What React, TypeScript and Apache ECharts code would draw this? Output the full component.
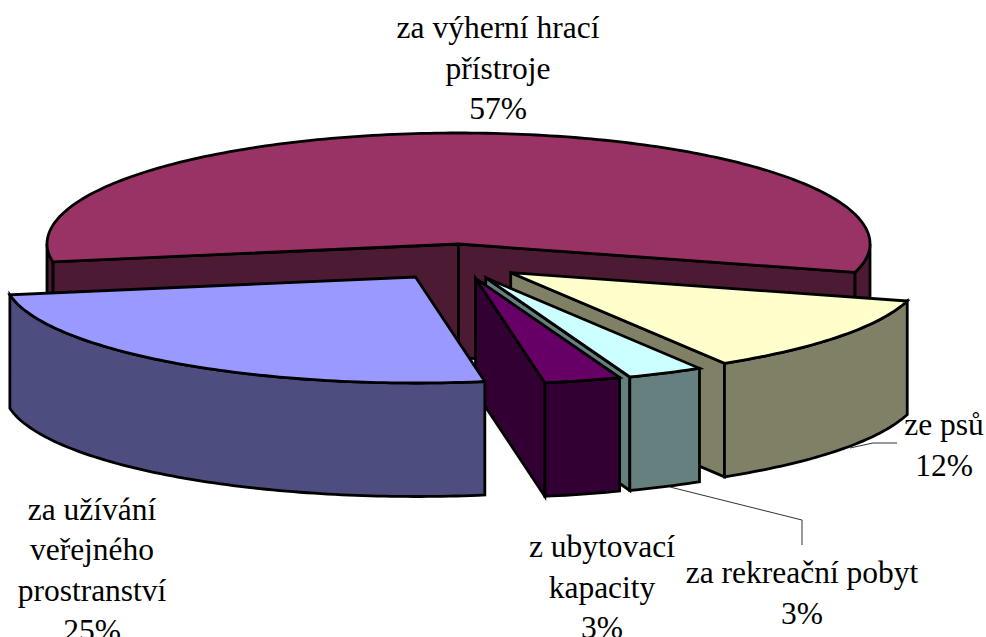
import React, { useEffect, useRef } from "react";
import * as echarts from "echarts";

// Data
const categories = [
  "za výherní hrací\npřístroje",
  "ze psů",
  "za rekreační pobyt",
  "z ubytovací\nkapacity",
  "za užívání\nveřejného\nprostranství",
];
const shares = [57, 12, 3, 3, 25];

// Style and layout
const topColors = ["#993366", "#ffffcc", "#ccffff", "#660066", "#9999ff"];
const wallColors = ["#4d1a33", "#808066", "#668080", "#330033", "#4d4d80"];
const centersX = [458.5, 510.7, 485.7, 475.5, 415.5];
const centersY = [244, 272.7, 277.7, 278.3, 277];
const labelX = [498, 944, 802, 602, 92];
const labelY = [68, 445, 593, 587, 570];

const RX = 411.5;
const RY_BACK = 111;
const RY_FRONT = 106;
const DEPTH = 113.5;
const FIRST_ANGLE = 170.3;
const total = shares.reduce((a, b) => a + b, 0);
const deg = Math.PI / 180;

function project(i: number, angle: number): [number, number] {
  const s = Math.sin(angle * deg);
  return [
    centersX[i] + RX * Math.cos(angle * deg),
    centersY[i] + s * (s > 0 ? RY_FRONT : RY_BACK),
  ];
}

function arcPoints(i: number, a: number, b: number): [number, number][] {
  const pts: [number, number][] = [];
  const n = Math.max(2, Math.ceil((b - a) / 1));
  for (let k = 0; k <= n; k++) pts.push(project(i, a + ((b - a) * k) / n));
  return pts;
}

const down = (p: [number, number]): [number, number] => [p[0], p[1] + DEPTH];

function renderSlice(params: any, api: any) {
  const i = params.dataIndex;
  const value = api.value(0);
  let start = FIRST_ANGLE;
  for (let k = 0; k < i; k++) start += (shares[k] / total) * 360;
  const end = start + (value / total) * 360;
  const c: [number, number] = [centersX[i], centersY[i]];
  const edge = { stroke: "#000", lineWidth: 2.8, lineJoin: "miter" };
  const children: any[] = [];
  const poly = (points: [number, number][], fill: string) =>
    children.push({ type: "polygon", shape: { points }, style: { ...edge, fill } });

  if (Math.cos(start * deg) < 0) {
    const p = project(i, start);
    poly([c, p, down(p), down(c)], wallColors[i]);
  }
  if (Math.cos(end * deg) > 0) {
    const p = project(i, end);
    poly([c, p, down(p), down(c)], wallColors[i]);
  }
  // the rim is seen only where it faces the viewer (0..180 degrees, and 360..540)
  for (const [lo, hi] of [[0, 180], [360, 540]]) {
    const a = Math.max(start, lo);
    const b = Math.min(end, hi);
    if (b > a) {
      const arc = arcPoints(i, a, b);
      poly([...arc, ...arc.map(down).reverse()], wallColors[i]);
    }
  }
  poly([c, ...arcPoints(i, start, end)], topColors[i]);
  return { type: "group", children };
}

export default function App() {
  const ref = useRef<HTMLDivElement>(null);
  useEffect(() => {
    document.body.style.margin = "0";
    document.body.style.overflow = "hidden";
    const chart = echarts.init(ref.current!, undefined, { renderer: "svg" });
    const leader = { stroke: "#333", lineWidth: 1, fill: "none" };
    chart.setOption({
      animation: false,
      backgroundColor: "#fff",
      series: [
        {
          type: "custom",
          coordinateSystem: "none",
          silent: true,
          clip: false,
          renderItem: renderSlice,
          data: shares.map((v) => [v]),
        },
      ],
      graphic: [
        { type: "polyline", shape: { points: [[897, 443], [873, 443], [850, 448]] }, style: leader, z: 10 },
        { type: "polyline", shape: { points: [[670, 487], [802, 520], [802, 545]] }, style: leader, z: 10 },
        ...categories.map((name, i) => ({
          type: "text",
          x: labelX[i],
          y: labelY[i],
          z: 11,
          style: {
            text: `${name}\n${shares[i]}%`,
            align: "center",
            verticalAlign: "middle",
            fill: "#000",
            fontFamily: "Liberation Serif",
            fontSize: 31.5,
            lineHeight: 40.5,
          },
        })),
      ],
    });
    return () => chart.dispose();
  }, []);
  return <div ref={ref} style={{ width: 986, height: 637, position: "absolute", left: 0, top: 0 }} />;
}
